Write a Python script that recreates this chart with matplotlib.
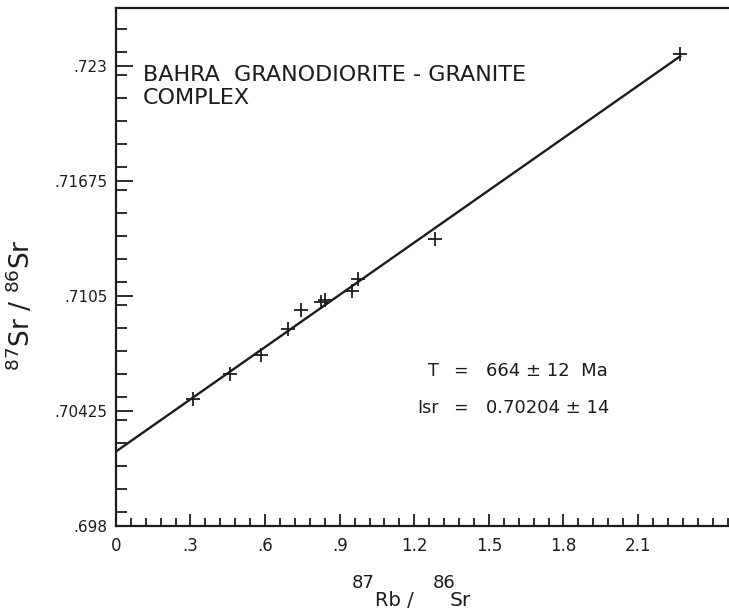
import matplotlib.pyplot as plt
from matplotlib.ticker import MultipleLocator, FixedLocator

# Rb-Sr isochron, Bahra granodiorite-granite complex
rb_sr = [0.310, 0.457, 0.584, 0.694, 0.745, 0.825, 0.841, 0.950, 0.973, 1.283, 2.267]
sr_sr = [0.70489, 0.70625, 0.70728, 0.70871, 0.70973, 0.71018, 0.71027,
         0.71076, 0.71140, 0.71358, 0.72365]

intercept = 0.70204
slope = 0.009473
line_x = [0.0, 2.27]
line_y = [intercept + slope * x for x in line_x]

xticks = [0, 0.3, 0.6, 0.9, 1.2, 1.5, 1.8, 2.1]
xtick_lbls = ["0", ".3", ".6", ".9", "1.2", "1.5", "1.8", "2.1"]
yticks = [0.698, 0.70425, 0.7105, 0.71675, 0.723]
ytick_lbls = [".698", ".70425", ".7105", ".71675", ".723"]

ink = "#1c1c1c"
plt.rcParams["mathtext.default"] = "regular"
plt.rcParams["font.family"] = "DejaVu Sans"

fig = plt.figure(figsize=(7.29, 6.10), dpi=100)
ax = fig.add_axes([0.159, 0.138, 0.841, 0.849])

ax.plot(line_x, line_y, color=ink, lw=1.7)
ax.plot(rb_sr, sr_sr, "+", color=ink, ms=10, mew=1.3)

ax.set_xlim(0, 2.466)
ax.set_ylim(0.698, 0.72617)

ax.xaxis.set_major_locator(FixedLocator(xticks))
ax.set_xticklabels(xtick_lbls)
ax.xaxis.set_minor_locator(MultipleLocator(0.06))
ax.yaxis.set_major_locator(FixedLocator(yticks))
ax.set_yticklabels(ytick_lbls)
ax.yaxis.set_minor_locator(MultipleLocator(0.00125))

ax.tick_params(which="both", direction="in", color=ink, labelcolor=ink,
               top=False, right=False)
ax.tick_params(axis="y", which="major", length=12, width=1.3, pad=6, labelsize=11)
ax.tick_params(axis="y", which="minor", length=8, width=1.3)
ax.tick_params(axis="x", which="major", length=9, width=1.3, pad=8, labelsize=12)
ax.tick_params(axis="x", which="minor", length=6, width=1.3)

ax.spines["right"].set_visible(False)
for s in ["left", "bottom", "top"]:
    ax.spines[s].set_linewidth(1.6)
    ax.spines[s].set_color(ink)

ax.set_ylabel("$^{87}$Sr / $^{86}$Sr", fontsize=19, color=ink)
ax.yaxis.set_label_coords(-0.13, 0.427)

# x label: big raised mass numbers as in the original lettering
fig.text(0.483, 0.036, "87", fontsize=13, color=ink, va="baseline")
fig.text(0.593, 0.036, "86", fontsize=13, color=ink, va="baseline")
fig.text(0.514, 0.006, "Rb /", fontsize=14, color=ink, va="baseline")
fig.text(0.617, 0.006, "Sr", fontsize=14.5, color=ink, va="baseline")

ax.text(0.044, 0.89, "BAHRA  GRANODIORITE - GRANITE\nCOMPLEX", transform=ax.transAxes,
        fontsize=16, color=ink, va="top", ha="left", linespacing=1.2)

ax.text(0.509, 0.29, "T", transform=ax.transAxes, fontsize=12.5, color=ink, va="baseline")
ax.text(0.550, 0.29, "=", transform=ax.transAxes, fontsize=12.5, color=ink, va="baseline")
ax.text(0.6036, 0.29, "664 ± 12  Ma", transform=ax.transAxes, fontsize=13,
        color=ink, va="baseline")
ax.text(0.491, 0.218, "Isr", transform=ax.transAxes, fontsize=12.5, color=ink, va="baseline")
ax.text(0.550, 0.218, "=", transform=ax.transAxes, fontsize=12.5, color=ink, va="baseline")
ax.text(0.6036, 0.218, "0.70204 ± 14", transform=ax.transAxes, fontsize=13,
        color=ink, va="baseline")

plt.savefig("out.png", dpi=100)
